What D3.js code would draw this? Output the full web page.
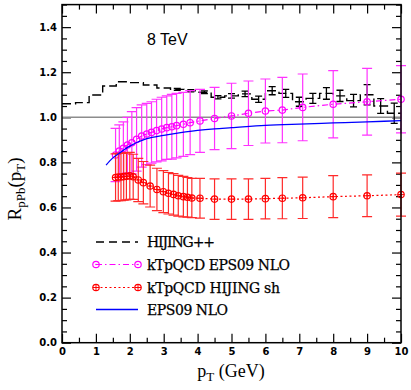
<!DOCTYPE html>
<html>
<head>
<meta charset="utf-8">
<script src="https://cdn.jsdelivr.net/npm/d3@7"></script>
<style>
  body { margin: 0; background: #fff; }
  .tick text { font-family: "DejaVu Sans", sans-serif; font-weight: bold; font-size: 10px; }
</style>
</head>
<body>
<svg id="chart" width="411" height="390"></svg>
<script>
// HIJING++ histogram, 0.4 GeV bins from 0 to 10
const hijingEdges = d3.range(0, 10.001, 0.4);
const hijingVals = [1.06, 1.065, 1.099, 1.139, 1.158, 1.154, 1.143, 1.13, 1.124, 1.118, 1.111, 1.089, 1.095,
  1.104, 1.08, 1.118, 1.106, 1.069, 1.084, 1.106, 1.095, 1.074, 1.10, 1.05, 1.018];
const hijingErr = [0, 0, 0, 0, 0, 0, 0, 0, 0.004, 0.005, 0.006, 0.007, 0.01,
  0.012, 0.014, 0.018, 0.018, 0.02, 0.022, 0.026, 0.025, 0.028, 0.045, 0.033, 0.045];

// kTpQCD EPS09 NLO
const epsPt = [1.58, 1.69, 1.81, 1.93, 2.06, 2.2, 2.35, 2.5, 2.64, 2.79, 2.94, 3.09, 3.24, 3.38, 3.58, 3.78, 4.07,
  4.5, 5.0, 5.5, 6.0, 6.5, 7.1, 8.0, 9.0, 10.0];
const epsVals = [0.833, 0.85, 0.862, 0.877, 0.887, 0.902, 0.917, 0.926, 0.933, 0.941, 0.948, 0.954, 0.958, 0.963,
  0.969, 0.976, 0.984, 0.995, 1.006, 1.018, 1.028, 1.032, 1.044, 1.058, 1.069, 1.08];
const epsErr = [0.118, 0.116, 0.118, 0.123, 0.138, 0.141, 0.138, 0.136, 0.136, 0.139, 0.141, 0.141, 0.144, 0.143,
  0.142, 0.142, 0.14, 0.138, 0.145, 0.143, 0.142, 0.145, 0.148, 0.149, 0.148, 0.149];

// kTpQCD HIJING sh
const shPt = [1.58, 1.66, 1.74, 1.82, 1.9, 2.0, 2.1, 2.25, 2.4, 2.6, 2.8, 2.99, 3.14, 3.29, 3.43, 3.58, 3.7, 3.83,
  4.07, 4.5, 5.0, 5.5, 6.0, 6.5, 7.1, 8.0, 9.0, 10.0];
const shVals = [0.733, 0.735, 0.735, 0.737, 0.738, 0.74, 0.736, 0.722, 0.71, 0.695, 0.68, 0.67, 0.663, 0.658,
  0.652, 0.648, 0.645, 0.642, 0.641, 0.637, 0.637, 0.637, 0.639, 0.641, 0.643, 0.648, 0.652, 0.657];
const shErr = [0.105, 0.105, 0.105, 0.105, 0.104, 0.104, 0.1, 0.096, 0.094, 0.093, 0.094, 0.093, 0.092, 0.092,
  0.09, 0.09, 0.088, 0.087, 0.088, 0.09, 0.09, 0.09, 0.09, 0.091, 0.092, 0.093, 0.093, 0.095];

// EPS09 NLO curve
const curvePt = [1.3, 1.5, 1.7, 2.0, 2.5, 3.0, 3.5, 4.0, 4.5, 5, 6, 7, 8, 9, 10];
const curveVals = [0.788, 0.82, 0.842, 0.872, 0.905, 0.92, 0.932, 0.942, 0.949, 0.954, 0.964, 0.97, 0.975, 0.98, 0.985];

const xMajor = d3.range(0, 10.001, 1);
const xMinor = d3.range(0.5, 10, 1);
const yMajor = d3.range(0, 1.401, 0.2);
const yMinor = d3.range(0, 1.501, 0.05).filter(v => Math.abs(v * 5 - Math.round(v * 5)) > 1e-6);

const margin = { top: 4.6, right: 10, bottom: 47.3, left: 62 };
const width = 411 - margin.left - margin.right;
const height = 390 - margin.top - margin.bottom;

const svg = d3.select('#chart');
const g = svg.append('g').attr('transform', `translate(${margin.left},${margin.top})`);

const x = d3.scaleLinear().domain([0, 10]).range([0, width]);
const y = d3.scaleLinear().domain([0, 1.5]).range([height, 0]);

const MAJ = 9, MIN = 5;

function addAxis(axisFn, transform, values, size, labels) {
  const a = g.append('g').attr('transform', transform)
    .call(axisFn.tickValues(values).tickSizeInner(-size).tickSizeOuter(0)
      .tickPadding(labels ? 5 : 0)
      .tickFormat(labels ? labels : ''));
  a.select('.domain').remove();
  a.selectAll('.tick line').attr('stroke', '#000').attr('stroke-width', 1.2);
  return a;
}

addAxis(d3.axisBottom(x), `translate(0,${height})`, xMajor, MAJ, d3.format('d'));
addAxis(d3.axisBottom(x), `translate(0,${height})`, xMinor, MIN, null);
addAxis(d3.axisTop(x), 'translate(0,0)', xMajor, MAJ, null);
addAxis(d3.axisTop(x), 'translate(0,0)', xMinor, MIN, null);
addAxis(d3.axisLeft(y), 'translate(0,0)', yMajor, MAJ, d3.format('.1f'));
addAxis(d3.axisLeft(y), 'translate(0,0)', yMinor, MIN, null);
addAxis(d3.axisRight(y), `translate(${width},0)`, yMajor, MAJ, null);
addAxis(d3.axisRight(y), `translate(${width},0)`, yMinor, MIN, null);

g.selectAll('.tick text').attr('fill', '#000');

// reference line at 1
g.append('line')
  .attr('x1', 0).attr('x2', width)
  .attr('y1', y(1)).attr('y2', y(1))
  .attr('stroke', '#8c8c8c').attr('stroke-width', 1.5);

// HIJING++ histogram
const histPts = hijingVals.map((v, i) => [hijingEdges[i], v]);
histPts.push([hijingEdges[hijingVals.length], hijingVals[hijingVals.length - 1]]);
g.append('path')
  .datum(histPts)
  .attr('fill', 'none')
  .attr('stroke', '#000')
  .attr('stroke-width', 1.4)
  .attr('stroke-dasharray', '9,4')
  .attr('d', d3.line().x(d => x(d[0])).y(d => y(d[1])).curve(d3.curveStepAfter));

function errorBars(pts, vals, errs, color, capHalf, width) {
  const data = pts.map((p, i) => ({ p, v: vals[i], e: errs[i] })).filter(d => d.e > 0);
  const eg = g.append('g').attr('stroke', color).attr('stroke-width', width).attr('fill', 'none');
  eg.selectAll('.eb').data(data).join('path')
    .attr('class', 'eb')
    .attr('d', d => {
      const cx = x(d.p), y1 = y(d.v + d.e), y2 = y(d.v - d.e);
      return `M${cx},${y1}V${y2}M${cx - capHalf},${y1}H${cx + capHalf}M${cx - capHalf},${y2}H${cx + capHalf}`;
    });
}

const hijingCenters = hijingVals.map((v, i) => hijingEdges[i] + 0.2);
errorBars(hijingCenters, hijingVals, hijingErr, '#000', 3.5, 1.3);

// EPS09 kTpQCD
const MAG = '#ff00ff';
errorBars(epsPt, epsVals, epsErr, '#ff33ff', 5, 1.2);
g.append('path')
  .datum(epsPt.map((p, i) => [p, epsVals[i]]))
  .attr('fill', 'none').attr('stroke', MAG).attr('stroke-width', 1.2)
  .attr('stroke-dasharray', '6,3,1.5,3')
  .attr('d', d3.line().x(d => x(d[0])).y(d => y(d[1])));
g.selectAll('.mcirc').data(epsPt.map((p, i) => [p, epsVals[i]])).join('circle')
  .attr('class', 'mcirc')
  .attr('cx', d => x(d[0])).attr('cy', d => y(d[1])).attr('r', 3.2)
  .attr('fill', 'none').attr('stroke', MAG).attr('stroke-width', 1.2);

// HIJING sh kTpQCD
const RED = '#ff0000';
errorBars(shPt, shVals, shErr, '#ff2a2a', 5, 1.2);
g.append('path')
  .datum(shPt.map((p, i) => [p, shVals[i]]))
  .attr('fill', 'none').attr('stroke', RED).attr('stroke-width', 1.2)
  .attr('stroke-dasharray', '2,2.5')
  .attr('d', d3.line().x(d => x(d[0])).y(d => y(d[1])));

function plusCircle(sel, cx, cy) {
  sel.append('circle').attr('cx', cx).attr('cy', cy).attr('r', 3.2)
    .attr('fill', 'none').attr('stroke', RED).attr('stroke-width', 1.2);
  sel.append('path').attr('d', `M${cx - 3.2},${cy}H${cx + 3.2}M${cx},${cy - 3.2}V${cy + 3.2}`)
    .attr('stroke', RED).attr('stroke-width', 1);
}
const rg = g.append('g');
shPt.forEach((p, i) => plusCircle(rg, x(p), y(shVals[i])));

// EPS09 NLO curve
g.append('path')
  .datum(curvePt.map((p, i) => [p, curveVals[i]]))
  .attr('fill', 'none').attr('stroke', '#0000ff').attr('stroke-width', 1.3)
  .attr('d', d3.line().x(d => x(d[0])).y(d => y(d[1])).curve(d3.curveMonotoneX));

// frame
g.append('rect').attr('width', width).attr('height', height)
  .attr('fill', 'none').attr('stroke', '#000').attr('stroke-width', 1.5);

// 8 TeV
svg.append('text').attr('x', 147).attr('y', 45)
  .attr('font-family', '"Liberation Sans", sans-serif').attr('font-size', 16)
  .text('8 TeV');

// legend
const legend = svg.append('g');
const lx1 = 96, lx2 = 138, tx = 147;
const rows = [
  { label: 'HIJING++', y: 242, type: 'hij', w: 68 },
  { label: 'kTpQCD EPS09 NLO', y: 264.5, type: 'eps', w: 143 },
  { label: 'kTpQCD HIJING sh', y: 287.5, type: 'sh', w: 133 },
  { label: 'EPS09 NLO', y: 309.5, type: 'curve', w: 81 }
];
rows.forEach(r => {
  if (r.type === 'hij') {
    legend.append('line').attr('x1', lx1).attr('x2', lx2).attr('y1', r.y).attr('y2', r.y)
      .attr('stroke', '#000').attr('stroke-width', 1.3).attr('stroke-dasharray', '8,5');
  } else if (r.type === 'eps') {
    legend.append('line').attr('x1', lx1).attr('x2', lx2).attr('y1', r.y).attr('y2', r.y)
      .attr('stroke', MAG).attr('stroke-width', 1.2).attr('stroke-dasharray', '6,3,1.5,3');
    [lx1, lx2].forEach(cx => {
      legend.append('circle').attr('cx', cx).attr('cy', r.y).attr('r', 3.2)
        .attr('fill', 'none').attr('stroke', MAG).attr('stroke-width', 1.2);
      legend.append('circle').attr('cx', cx).attr('cy', r.y).attr('r', 0.8).attr('fill', MAG);
    });
  } else if (r.type === 'sh') {
    legend.append('line').attr('x1', lx1).attr('x2', lx2).attr('y1', r.y).attr('y2', r.y)
      .attr('stroke', RED).attr('stroke-width', 1.2).attr('stroke-dasharray', '2,2.5');
    [lx1, lx2].forEach(cx => plusCircle(legend, cx, r.y));
  } else {
    legend.append('line').attr('x1', lx1).attr('x2', lx2).attr('y1', r.y).attr('y2', r.y)
      .attr('stroke', '#0000ff').attr('stroke-width', 1.3);
  }
  legend.append('text').attr('x', tx).attr('y', r.y + 5)
    .attr('font-family', '"DejaVu Serif", serif').attr('font-size', 14)
    .attr('stroke', '#000').attr('stroke-width', 0.25)
    .attr('textLength', r.w).attr('lengthAdjust', 'spacing')
    .text(r.label);
});

// axis titles
const yt = svg.append('text')
  .attr('transform', 'translate(21,189) rotate(-90)')
  .attr('text-anchor', 'middle')
  .attr('font-family', '"Liberation Serif", serif').attr('font-size', 19);
yt.append('tspan').text('R');
yt.append('tspan').attr('font-size', 13).attr('baseline-shift', '-30%').text('pPb');
yt.append('tspan').text('(p');
yt.append('tspan').attr('font-size', 13).attr('baseline-shift', '-30%').text('T');
yt.append('tspan').text(')');

const xt = svg.append('text')
  .attr('x', 231).attr('y', 377)
  .attr('text-anchor', 'middle')
  .attr('font-family', '"Liberation Serif", serif').attr('font-size', 18);
xt.append('tspan').text('p');
xt.append('tspan').attr('font-size', 13).attr('baseline-shift', '-30%').text('T');
xt.append('tspan').text(' (GeV)');
</script>
</body>
</html>
